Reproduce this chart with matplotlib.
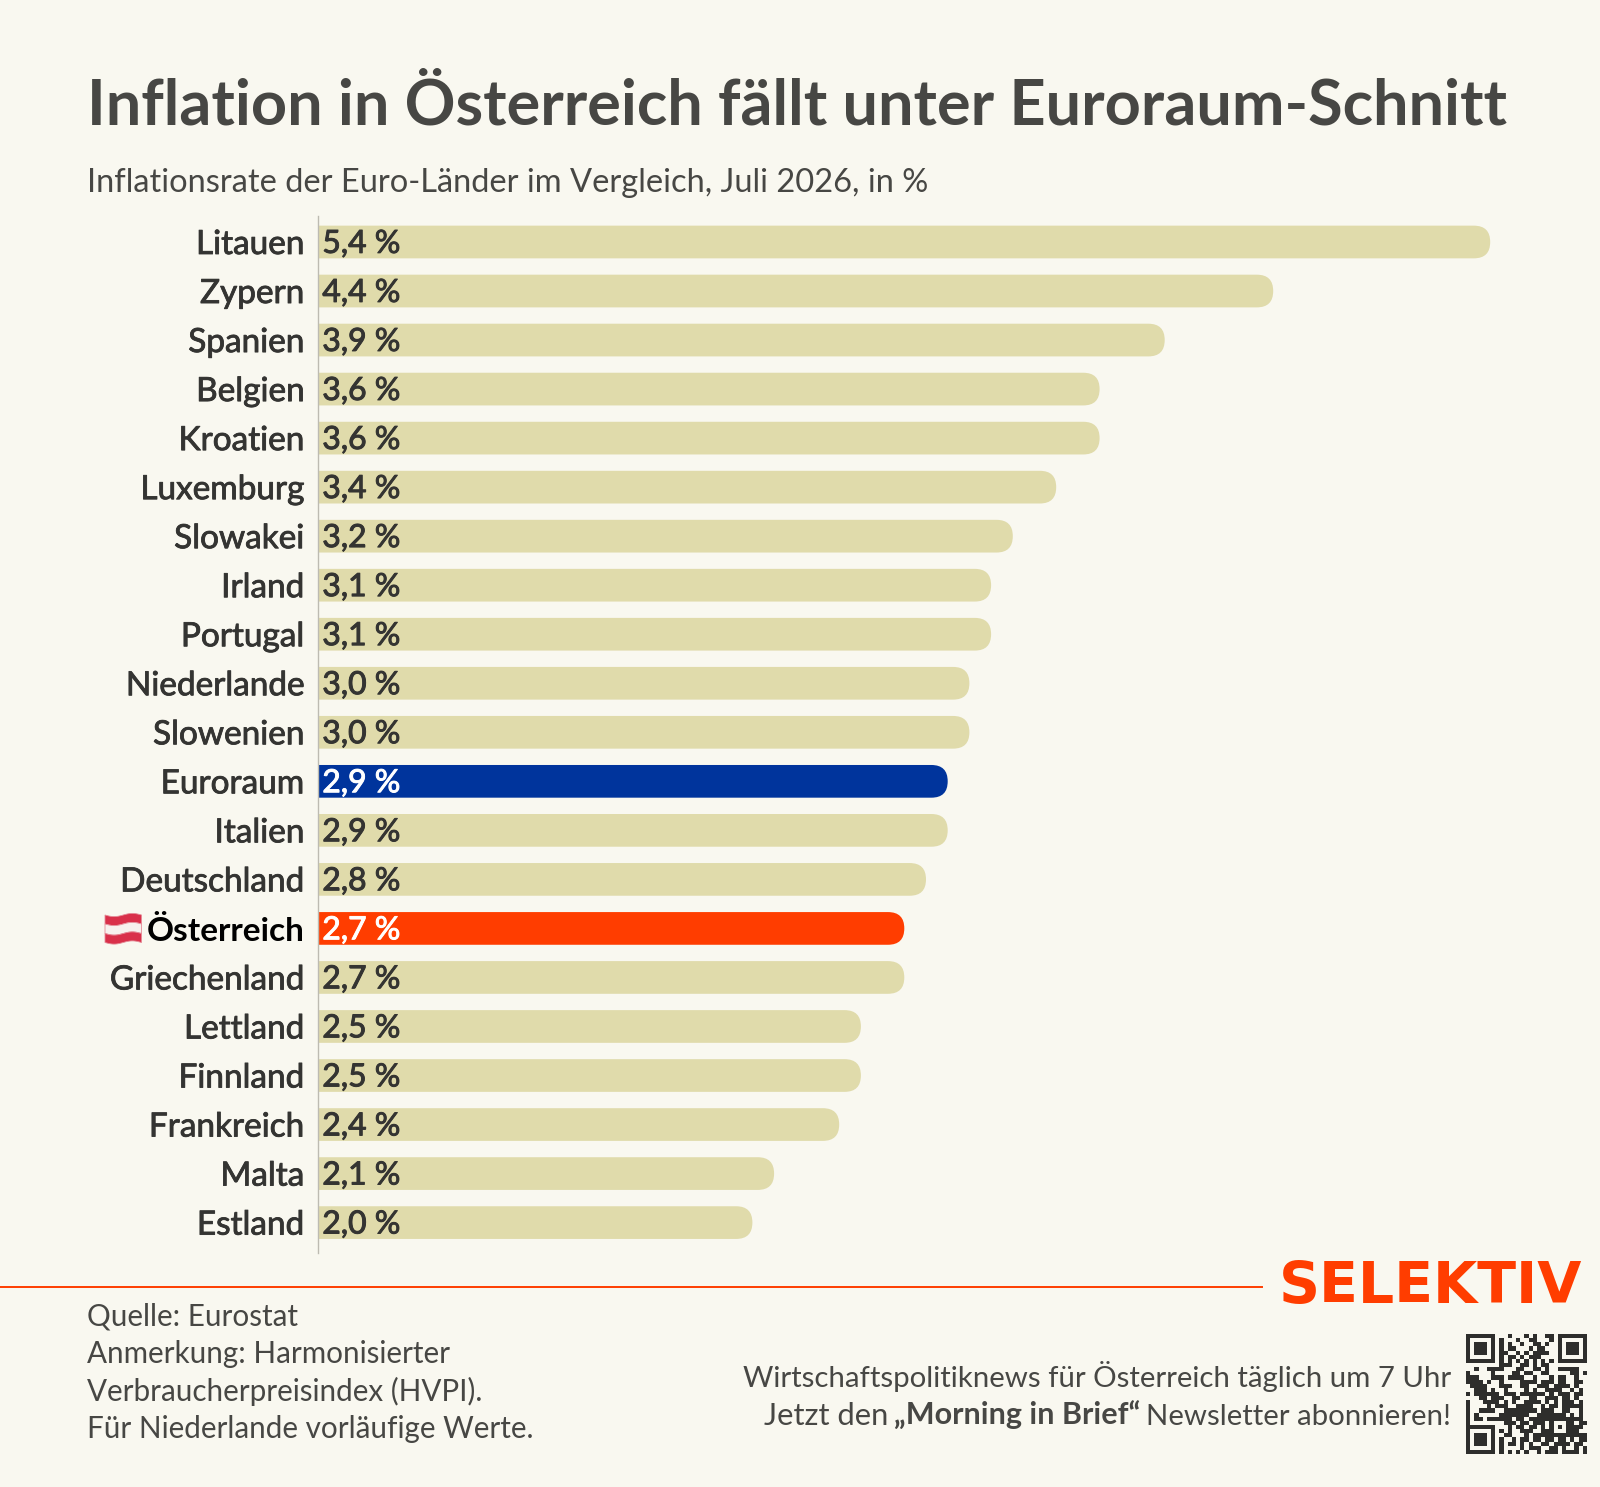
import matplotlib
matplotlib.use('Agg')
import matplotlib.pyplot as plt
import matplotlib.patheffects as pe
from matplotlib.path import Path
from matplotlib.patches import PathPatch, Polygon
from matplotlib.transforms import Affine2D
import numpy as np

W = 1600
H = 1487

laender = ['Litauen', 'Zypern', 'Spanien', 'Belgien', 'Kroatien', 'Luxemburg', 'Slowakei',
           'Irland', 'Portugal', 'Niederlande', 'Slowenien', 'Euroraum', 'Italien',
           'Deutschland', 'Österreich', 'Griechenland', 'Lettland', 'Finnland',
           'Frankreich', 'Malta', 'Estland']
werte = [5.4, 4.4, 3.9, 3.6, 3.6, 3.4, 3.2, 3.1, 3.1, 3.0, 3.0, 2.9, 2.9, 2.8, 2.7, 2.7,
         2.5, 2.5, 2.4, 2.1, 2.0]

# qr code, read module by module off the picture (best effort)
F0 = '1111111'
F1 = '1000001'
F2 = '1011101'
qr_rows = [
    F0 + '0' + '0010001010011' + '0' + F0,
    F1 + '0' + '1000100110001' + '0' + F1,
    F2 + '0' + '1010010011010' + '0' + F2,
    F2 + '0' + '1011000101100' + '0' + F2,
    F2 + '0' + '1100101011110' + '0' + F2,
    F1 + '0' + '1011010111000' + '0' + F1,
    F0 + '0' + '1010101010101' + '0' + F0,
    '00000000' + '1110011010110' + '00000000',
    '00100111100011001101001111100',
    '10000010000110110011000001101',
    '11100011101111001000101100100',
    '11110100100001111011101100110',
    '01111000111001100111011110100',
    '00111010010000101001111001010',
    '10111111011101111110101110110',
    '00011011100110011001110110100',
    '10001111010100111101010111010',
    '10000101110011110010110111110',
    '10011110011111111011100110010',
    '10100000111111100111111101010',
    '10110111111011011111' + '11111' + '1110',
    '10000000011101101110' + '10001' + '1011',
    F0 + '0' + '001011011010' + '10101' + '1110',
    F1 + '0' + '101001110011' + '10001' + '1100',
    F2 + '0' + '011000101111' + '11111' + '1111',
    F2 + '0' + '100101101101' + '10110' + '1011',
    F2 + '0' + '101101010011' + '01111' + '0110',
    F1 + '0' + '100001011100' + '11010' + '0101',
    F0 + '0' + '101010100101' + '11011' + '1101',
]

BG = '#F9F8F0'
BAR = '#E0DBAB'
BLUE = '#00349C'
ORANGE = '#FF3D00'
DARK = '#343432'
GREY = '#474744'

plt.rcParams['font.family'] = ['Lato', 'DejaVu Sans']

fig = plt.figure(figsize=(W / 100, H / 100), dpi=100, facecolor=BG)

# axes placed in pixels, 217 px per percentage point, rows 49.03 px apart
x0 = 318.4
px_x = 217.0
px_y = 49.03
top = 216.0
bottom = 1253.0
ax = fig.add_axes([x0 / W, 1 - bottom / H, (W - x0) / W, (bottom - top) / H])
ax.set_xlim(0, (W - x0) / px_x)
ax.set_ylim((bottom - 242.0) / px_y, (top - 242.0) / px_y)
ax.set_facecolor('none')
for s in ['top', 'right', 'bottom']:
    ax.spines[s].set_visible(False)
ax.spines['left'].set_color('#BDBBB2')
ax.spines['left'].set_linewidth(1.0)
ax.set_xticks([])
ax.set_yticks(range(len(laender)))
ax.set_yticklabels(laender, fontsize=24, color=DARK)
ax.tick_params(axis='y', length=0, pad=10)

bar_h = 32.7 / px_y
rx = 16.3 / px_x
for i, (name, v) in enumerate(zip(laender, werte)):
    col = BAR
    txt = DARK
    if name == 'Euroraum':
        col = BLUE
        txt = 'white'
    if name == 'Österreich':
        col = ORANGE
        txt = 'white'
    # square on the left, round on the right
    y1 = i - bar_h / 2
    y2 = i + bar_h / 2
    verts = [(0, y1), (v - rx, y1), (v, y1), (v, i), (v, y2), (v - rx, y2), (0, y2), (0, y1)]
    codes = [Path.MOVETO, Path.LINETO, Path.CURVE3, Path.CURVE3, Path.CURVE3, Path.CURVE3,
             Path.LINETO, Path.CLOSEPOLY]
    ax.add_patch(PathPatch(Path(verts, codes), facecolor=col, edgecolor='none'))
    # Lato has no medium cut here, a thin outline thickens the regular one
    ax.annotate(f'{v:.1f} %'.replace('.', ','), (0, i), xytext=(2.8, 0.8), textcoords='offset points',
                va='center_baseline', ha='left', fontsize=23, color=txt,
                path_effects=[pe.withStroke(linewidth=0.7, foreground=txt)])

for lab in ax.get_yticklabels():
    lab.set_path_effects([pe.withStroke(linewidth=0.6, foreground=DARK)])
    if lab.get_text() == 'Österreich':
        lab.set_color('black')
        lab.set_fontweight('bold')
        lab.set_path_effects([])


def px_text(x, y, s, **kw):
    return fig.text(x / W, 1 - y / H, s, **kw)


px = Affine2D().scale(1 / W, -1 / H).translate(0, 1) + fig.transFigure

px_text(87, 124.5, 'Inflation in Österreich fällt unter Euroraum-Schnitt', fontsize=45.4,
        fontweight='bold', color=GREY, va='baseline')
px_text(87, 192, 'Inflationsrate der Euro-Länder im Vergleich, Juli 2026, in %', fontsize=23.5,
        color=GREY, va='baseline')

# flag
fx = np.linspace(105, 141.5, 30)
wave = 1.6 * np.sin((fx - 105) / 36.5 * 2 * np.pi)
fy = [915.0, 924.0, 933.5, 942.5]
for k, c in enumerate(['#D9304A', '#F7F1EE', '#D9304A']):
    pts = np.r_[np.c_[fx, fy[k] + wave], np.c_[fx[::-1], fy[k + 1] + wave[::-1]]]
    fig.add_artist(Polygon(pts, closed=True, facecolor=c, edgecolor='#E58C98', lw=0.6, transform=px))

# footer
fig.add_artist(plt.Line2D([0, 1262 / W], [1 - 1286.5 / H] * 2, color=ORANGE, lw=1.4))
px_text(1431, 1303, 'SELEKTIV', fontsize=41, fontweight='bold', color=ORANGE, va='baseline',
        ha='center', family='DejaVu Sans')

notes = ['Quelle: Eurostat', 'Anmerkung: Harmonisierter', 'Verbraucherpreisindex (HVPI).',
         'Für Niederlande vorläufige Werte.']
note_y = [1325.5, 1363, 1400.5, 1438]
for s, y in zip(notes, note_y):
    px_text(87, y, s, fontsize=21.3, color=GREY, va='baseline')

px_text(1451, 1387.5, 'Wirtschaftspolitiknews für Österreich täglich um 7 Uhr', fontsize=21.2,
        color=GREY, ha='right', va='baseline')

# mixed weights, so the second line is set right to left piece by piece
rend = fig.canvas.get_renderer()
xr = 1451.0
for s, w, fs in [('Newsletter abonnieren!', 'normal', 21.2), ('„Morning in Brief“', 'bold', 22),
                 ('Jetzt den', 'normal', 22.2)]:
    t = px_text(xr, 1425, s, fontsize=fs, fontweight=w, color=GREY, ha='right', va='baseline')
    xr -= t.get_window_extent(rend).width + 6

qr = np.array([[int(c) for c in r[:29].ljust(29, '0')] for r in qr_rows])
qr_ax = fig.add_axes([1465.7 / W, 1 - 1454.0 / H, 120.3 / W, 120.0 / H])
qr_ax.imshow(qr, cmap=matplotlib.colors.ListedColormap([BG, '#2E2E2C']), interpolation='nearest',
             aspect='auto')
qr_ax.axis('off')

fig.savefig('out.png', dpi=100, facecolor=BG)
